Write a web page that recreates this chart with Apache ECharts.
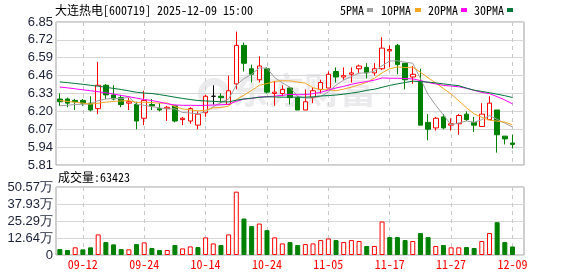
<!DOCTYPE html>
<html><head><meta charset="utf-8">
<script src="https://cdn.jsdelivr.net/npm/echarts@6/dist/echarts.min.js"></script>
<style>html,body{margin:0;padding:0;background:#fff}#c{width:578px;height:276px}</style>
</head><body><div id="c"></div>
<script>
const dates = ['09-09','09-10','09-11','09-12','09-15','09-16','09-17','09-18','09-19','09-22',
'09-23','09-24','09-25','09-26','09-29','09-30','10-09','10-10','10-13','10-14',
'10-15','10-16','10-17','10-20','10-21','10-22','10-23','10-24','10-27','10-28',
'10-29','10-30','10-31','11-03','11-04','11-05','11-06','11-07','11-10','11-11',
'11-12','11-13','11-14','11-17','11-18','11-19','11-20','11-21','11-24','11-25',
'11-26','11-27','11-28','12-01','12-02','12-03','12-04','12-05','12-08','12-09'];
const xTickLabels = ['09-12','09-24','10-14','10-24','11-05','11-17','11-27','12-09'];
const opens = [6.29,6.29,6.28,6.28,6.26,6.22,6.39,6.32,6.30,6.26,
6.25,6.15,6.25,6.22,6.22,6.24,6.14,6.13,6.10,6.19,
6.31,6.31,6.25,6.40,6.68,6.51,6.43,6.51,6.33,6.33,
6.37,6.30,6.21,6.30,6.36,6.37,6.49,6.45,6.47,6.51,
6.52,6.48,6.51,6.64,6.68,6.55,6.45,6.42,6.12,6.08,
6.16,6.10,6.11,6.18,6.12,6.09,6.14,6.21,6.02,5.97];
const closes = [6.27,6.26,6.27,6.26,6.21,6.39,6.32,6.29,6.25,6.27,
6.13,6.28,6.24,6.21,6.23,6.13,6.15,6.22,6.18,6.31,
6.31,6.30,6.35,6.68,6.55,6.47,6.53,6.34,6.34,6.36,
6.30,6.21,6.27,6.35,6.41,6.47,6.45,6.46,6.48,6.53,
6.48,6.51,6.66,6.65,6.54,6.43,6.47,6.10,6.07,6.15,
6.08,6.11,6.17,6.14,6.10,6.18,6.26,6.03,6.00,5.96];
const highs = [6.33,6.30,6.29,6.29,6.31,6.56,6.40,6.39,6.32,6.30,
6.27,6.35,6.29,6.26,6.24,6.24,6.16,6.23,6.20,6.32,
6.39,6.33,6.46,6.78,6.70,6.54,6.60,6.52,6.42,6.39,
6.38,6.31,6.36,6.37,6.43,6.49,6.52,6.52,6.52,6.54,
6.55,6.55,6.74,6.68,6.69,6.55,6.53,6.51,6.18,6.16,
6.18,6.15,6.18,6.20,6.16,6.26,6.31,6.21,6.02,6.03];
const lows = [6.24,6.23,6.21,6.24,6.20,6.18,6.29,6.28,6.23,6.21,
6.07,6.10,6.21,6.20,6.13,6.12,6.10,6.11,6.07,6.16,
6.25,6.26,6.25,6.36,6.49,6.41,6.41,6.33,6.24,6.31,
6.25,6.21,6.21,6.26,6.33,6.37,6.41,6.43,6.41,6.48,
6.44,6.46,6.50,6.52,6.47,6.36,6.40,6.10,5.99,6.06,
6.07,6.06,6.03,6.13,6.05,6.09,6.14,5.90,5.96,5.93];
const volumes = [44000,37000,57000,42000,57000,153000,96000,79000,44000,42000,
81000,94000,52000,37000,37000,74000,49000,64000,59000,131000,
86000,74000,153000,471000,271000,215000,234000,185000,131000,86000,
96000,74000,81000,86000,111000,123000,111000,96000,111000,104000,
67000,67000,249000,133000,133000,111000,104000,163000,133000,67000,
74000,57000,57000,59000,52000,104000,163000,244000,96000,63423];
const ma5 = [6.240,6.245,6.250,6.252,6.254,6.278,6.290,6.294,6.292,6.304,
6.252,6.244,6.234,6.226,6.218,6.218,6.192,6.188,6.182,6.198,
6.234,6.264,6.290,6.390,6.438,6.470,6.516,6.514,6.446,6.408,
6.374,6.310,6.296,6.298,6.308,6.342,6.390,6.428,6.454,6.478,
6.480,6.492,6.532,6.566,6.568,6.558,6.550,6.438,6.322,6.244,
6.174,6.102,6.116,6.130,6.120,6.140,6.170,6.142,6.114,6.086];
const ma10 = [6.279,6.272,6.266,6.260,6.253,6.259,6.267,6.272,6.276,6.279,
6.265,6.267,6.264,6.259,6.261,6.235,6.218,6.211,6.204,6.208,
6.226,6.228,6.239,6.286,6.318,6.352,6.390,6.402,6.418,6.423,
6.422,6.413,6.405,6.372,6.358,6.358,6.350,6.362,6.376,6.393,
6.411,6.441,6.480,6.510,6.523,6.519,6.521,6.485,6.444,6.406,
6.366,6.326,6.277,6.226,6.182,6.157,6.136,6.129,6.122,6.103];
const ma20 = [6.377,6.371,6.364,6.357,6.350,6.343,6.335,6.326,6.316,6.307,
6.296,6.286,6.279,6.268,6.255,6.247,6.244,6.244,6.243,6.244,
6.246,6.248,6.252,6.273,6.290,6.294,6.304,6.307,6.311,6.316,
6.324,6.321,6.322,6.329,6.338,6.355,6.370,6.382,6.397,6.408,
6.417,6.427,6.443,6.441,6.441,6.439,6.436,6.424,6.410,6.400,
6.389,6.384,6.379,6.368,6.353,6.338,6.329,6.307,6.283,6.255];
const ma30 = [6.414,6.409,6.403,6.397,6.390,6.383,6.375,6.367,6.359,6.349,
6.339,6.333,6.330,6.322,6.313,6.303,6.294,6.286,6.279,6.276,
6.273,6.270,6.269,6.281,6.290,6.296,6.302,6.306,6.305,6.303,
6.304,6.303,6.303,6.306,6.312,6.315,6.319,6.325,6.333,6.341,
6.353,6.361,6.375,6.389,6.400,6.410,6.420,6.416,6.413,6.407,
6.400,6.393,6.387,6.369,6.354,6.345,6.336,6.325,6.314,6.301];
const priceMin = 5.81, priceMax = 6.85, priceStep = 0.13;
const volMax = 505720, volStep = 126430;
const titleText = '大连热电[600719] 2025-12-09 15:00';
const volTitle = '成交量:63423';

const RED = '#ff0000', GREEN = '#008000', DOJI = '#000000';
const MONO = "'Noto Sans Mono CJK SC','Noto Sans CJK SC',monospace";
const SANS = "'Liberation Sans',Arial,sans-serif";
const NARROW = "'Liberation Sans Narrow','Liberation Sans',Arial,sans-serif";
const LABEL_C = '#1b2138';
const cats = dates.concat(['']);

const candleData = opens.map((o, i) => {
  const c = closes[i];
  const col = c > o ? RED : (c < o ? GREEN : DOJI);
  const fill = c > o ? '#ffffff' : col;
  return { value: [o, c, lows[i], highs[i]],
    itemStyle: { color: fill, color0: fill, borderColor: col, borderColor0: col, borderColorDoji: col } };
});
const volData = volumes.map((v, i) => {
  const up = i === 0 ? closes[0] >= opens[0] : closes[i] >= closes[i - 1];
  return { value: v, itemStyle: up ? { color: '#ffffff', borderColor: RED, borderWidth: 1 }
                                   : { color: GREEN, borderColor: GREEN, borderWidth: 1 } };
});

const tickFn = (idx, val) => xTickLabels.indexOf(val) >= 0;
const vSplit = { show: true, interval: tickFn, alignWithLabel: true, lineStyle: { color: '#c8c8c8', type: [4, 4], width: 1 } };
const hSplit = { show: true, lineStyle: { color: '#d6d6d6', width: 1 } };
const gridBase = { left: 56, width: 468, show: true, borderColor: '#a0a0a0', borderWidth: 1, backgroundColor: 'transparent' };

function maSeries(name, data, color) {
  return { name, type: 'line', data, xAxisIndex: 0, yAxisIndex: 0, symbol: 'none', showSymbol: false,
    lineStyle: { width: 1, color }, itemStyle: { color }, z: 3, silent: true };
}

const legendItems = [['5PMA', 340, 367, '#a0a0a0'], ['10PMA', 381, 415, '#f5a623'], ['20PMA', 428, 461, '#ff00ff'], ['30PMA', 474, 507, '#00773a']];
const graphics = [
  { type: 'text', left: 55, top: 4, z: 10, style: { text: titleText, font: '12px ' + MONO, fill: '#000' } },
  { type: 'text', left: 58, top: 171, z: 10, style: { text: volTitle, font: '12px ' + MONO, fill: '#000' } },
  { type: 'text', left: 232, top: 72, z: 1, silent: true, style: { text: '东方财富', font: 'bold 36px "Noto Sans CJK SC"', fill: 'rgba(215,215,222,0.5)' } },
  { type: 'ring', z: 1, silent: true, shape: { cx: 214, cy: 94, r: 16, r0: 9 }, style: { fill: 'rgba(215,215,222,0.5)' } }
];
legendItems.forEach(([t, tx, rx, c]) => {
  graphics.push({ type: 'text', left: tx, top: 4, z: 10, style: { text: t, font: '12px ' + MONO, fill: '#000' } });
  graphics.push({ type: 'rect', z: 10, shape: { x: rx, y: 8, width: 6, height: 4 }, style: { fill: c } });
});

const chart = echarts.init(document.getElementById('c'), null, { renderer: 'canvas' });
chart.setOption({
  animation: false,
  backgroundColor: '#ffffff',
  graphic: graphics,
  grid: [Object.assign({ top: 22, height: 143 }, gridBase), Object.assign({ top: 187, height: 68 }, gridBase)],
  xAxis: [
    { type: 'category', gridIndex: 0, data: cats, boundaryGap: true, axisLine: { show: false }, axisTick: { show: false }, axisLabel: { show: false }, splitLine: vSplit },
    { type: 'category', gridIndex: 1, data: cats, boundaryGap: true, axisLine: { show: false }, axisTick: { show: false },
      axisLabel: { show: true, interval: tickFn, color: RED, fontFamily: MONO, fontSize: 12, margin: 3 }, splitLine: vSplit }
  ],
  yAxis: [
    { type: 'value', gridIndex: 0, min: priceMin, max: priceMax, interval: priceStep, axisLine: { show: false }, axisTick: { show: false },
      axisLabel: { color: LABEL_C, fontFamily: SANS, fontSize: 13, margin: 3, formatter: v => v.toFixed(2) }, splitLine: hSplit },
    { type: 'value', gridIndex: 1, min: 0, max: volMax, interval: volStep, axisLine: { show: false }, axisTick: { show: false },
      axisLabel: { color: LABEL_C, fontFamily: NARROW, fontSize: 13, margin: 3, formatter: v => v === 0 ? '0' : (v / 10000).toFixed(2) + '万' }, splitLine: hSplit }
  ],
  series: [
    { type: 'candlestick', name: 'K', xAxisIndex: 0, yAxisIndex: 0, data: candleData, barWidth: 5, z: 2, silent: true,
      itemStyle: { borderWidth: 1 } },
    maSeries('5PMA', ma5, '#a0a0a0'),
    maSeries('10PMA', ma10, '#f5a623'),
    maSeries('20PMA', ma20, '#ff00ff'),
    maSeries('30PMA', ma30, '#00773a'),
    { type: 'bar', name: 'VOL', xAxisIndex: 1, yAxisIndex: 1, data: volData, barWidth: 5, silent: true }
  ]
});
</script></body></html>
